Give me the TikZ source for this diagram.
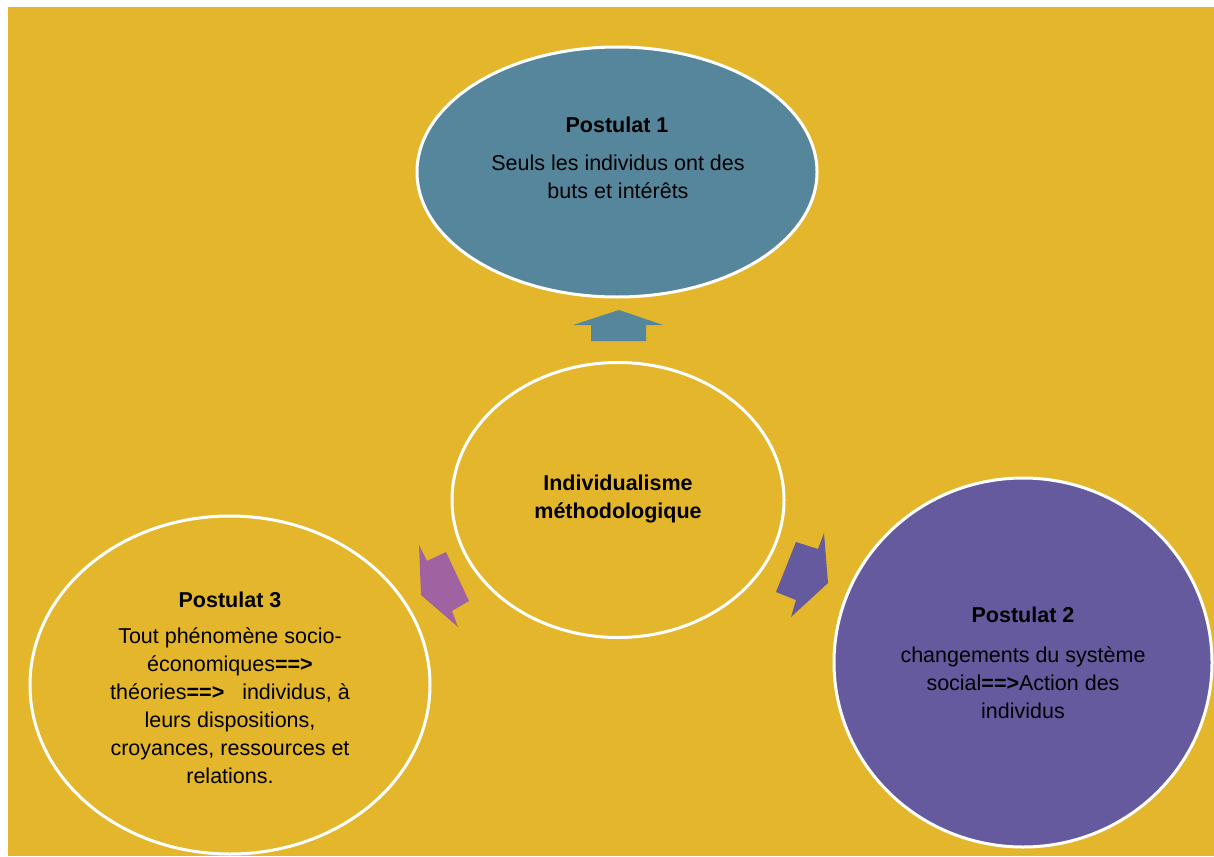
\documentclass[tikz,border=0pt]{standalone}
\usepackage{fontspec}
\setmainfont{Liberation Sans}
\usetikzlibrary{shapes.geometric}
\definecolor{bgcol}{HTML}{E4B62B}
\definecolor{pone}{HTML}{56869B}
\definecolor{ptwo}{HTML}{665A9E}
\definecolor{pthree}{HTML}{A062A0}
\tikzset{
  blob/.style={ellipse, draw=white, line width=3pt, inner sep=0pt},
  txt/.style={align=center, inner sep=0pt, text=black, font=\fontsize{21.5}{28}\selectfont},
  ttl/.style={inner sep=0pt, text=black, font=\fontsize{21.5}{28}\selectfont\bfseries},
}
\begin{document}
\begin{tikzpicture}[x=1pt,y=-1pt]
\useasboundingbox (0,0) rectangle (1214,856);
\clip (0,0) rectangle (1214,856);
\fill[bgcol] (8,7) rectangle (1214,856);

% ellipses
\node[blob, fill=pone, minimum width=400pt, minimum height=250pt] (e1) at (617,172) {};
\node[blob, fill=bgcol, minimum width=332pt, minimum height=275pt] (ec) at (618,500) {};
\node[blob, fill=bgcol, minimum width=400pt, minimum height=338pt] (e3) at (230,685) {};
\node[blob, fill=ptwo, minimum width=378pt, minimum height=369pt] (e2) at (1023,662.5) {};

% arrows
\fill[pone] (619,310) -- (663,325) -- (646,325) -- (646,341) -- (591,341) -- (591,325) -- (573,325) -- cycle;
\fill[pthree] (419,545) -- (427,561) -- (446,552) -- (469,601) -- (452,611) -- (458,627) -- (421,595) -- cycle;
\fill[ptwo] (824,533) -- (828,583) -- (791,617) -- (796,600) -- (776,592) -- (796,542) -- (818,549) -- cycle;

% texts
\node[ttl] (t1) at (617,125) {Postulat 1};
\node[txt] (b1) at (618,177) {Seuls les individus ont des\\buts et intérêts};

\node[txt, font=\fontsize{21.5}{28}\selectfont\bfseries] (tc) at (618,499) {Individualisme\\méthodologique};

\node[ttl] (t3) at (230,600) {Postulat 3};
\node[txt] (b3) at (230,706) {Tout phénomène socio-\\économiques\textbf{==>}\\théories\textbf{==>}\ \ \ individus, à\\leurs dispositions,\\croyances, ressources et\\relations.};

\node[ttl] (t2) at (1023,615) {Postulat 2};
\node[txt] (b2) at (1023,683) {changements du système\\social\textbf{==>}Action des\\individus};
\end{tikzpicture}
\end{document}
